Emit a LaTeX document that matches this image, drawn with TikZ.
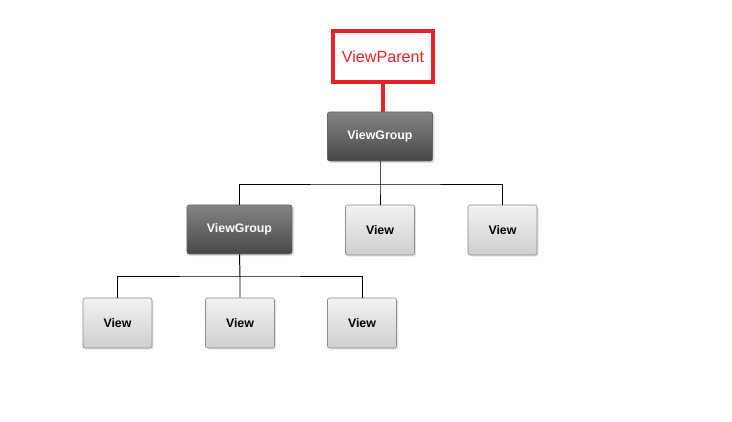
\documentclass[tikz,border=0pt]{standalone}
\usepackage{fontspec}
\setmainfont{Liberation Sans}
\usetikzlibrary{shadows}
\definecolor{parentred}{HTML}{E8202A}
\tikzset{
  groupbox/.style={rounded corners=1.5pt, draw=black!60, top color=black!48, bottom color=black!72,
    text=white, font=\fontsize{8.8}{10}\selectfont\bfseries,
    minimum width=2.625cm, minimum height=1.225cm, inner sep=0pt,
    drop shadow={opacity=0.25, shadow xshift=0.05cm, shadow yshift=-0.05cm}},
  viewbox/.style={rounded corners=1.5pt, draw=black!45, top color=black!5, bottom color=black!19,
    text=black, font=\fontsize{8.8}{10}\selectfont\bfseries,
    minimum width=1.725cm, minimum height=1.25cm, inner sep=0pt,
    drop shadow={opacity=0.2, shadow xshift=0.04cm, shadow yshift=-0.04cm}},
  parentbox/.style={draw=parentred, line width=2.2pt, text=parentred,
    font=\fontsize{11.5}{13}\selectfont,
    minimum width=2.5cm, minimum height=1.275cm, inner sep=0pt},
  link/.style={draw=black, line width=0.7pt}
}
\begin{document}
\begin{tikzpicture}[x=0.025cm,y=-0.025cm]
    \useasboundingbox (0,0) rectangle (732,422);
    \node[parentbox] (vp) at (383,56.5) {ViewParent};

    \node[groupbox] (vg1) at (380,136.5) {ViewGroup};

    \node[groupbox] (vg2) at (239.5,229.5) {ViewGroup};
    \node[viewbox]  (v2)  at (380,230)     {View};
    \node[viewbox]  (v3)  at (502.5,230)   {View};

    \node[viewbox]  (v4)  at (117.5,323)   {View};
    \node[viewbox]  (v5)  at (240,323)     {View};
    \node[viewbox]  (v6)  at (362,323)     {View};

    \coordinate (bus1) at (380,184);
    \coordinate (bus2) at (240,276);

    \draw[draw=parentred, line width=2.2pt] (vp.south) -- (vp.south |- vg1.north);

    \draw[link] (vg1.south) -- (bus1) -- (v2.north);
    \draw[link] (vg2.north) |- (bus1) -| (v3.north);

    \draw[link] (vg2.south) -- (bus2) -- (v5.north);
    \draw[link] (v4.north) |- (bus2) -| (v6.north);
\end{tikzpicture}
\end{document}
